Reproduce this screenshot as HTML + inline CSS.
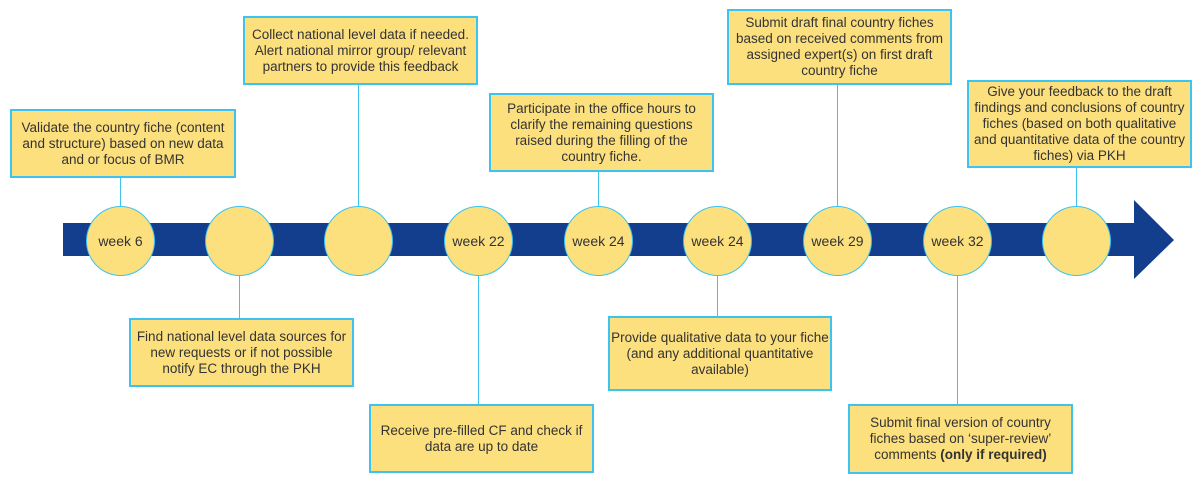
<!DOCTYPE html>
<html><head><meta charset="utf-8"><style>
body{margin:0;width:1200px;height:485px;background:#fff;position:relative;overflow:hidden;font-family:"Liberation Sans",sans-serif;}
.b{position:absolute;box-sizing:border-box;background:#fde07e;border:2px solid #3cc3ef;display:flex;align-items:center;justify-content:center;text-align:center;font-size:13.5px;line-height:16px;color:#333;white-space:nowrap;}
.b span{display:block;}
.l{position:absolute;width:1px;background:#3cc3ef;}
.c{position:absolute;width:69px;height:70px;box-sizing:border-box;border-radius:50%;background:#fde07e;border:1.5px solid #3cc3ef;display:flex;align-items:center;justify-content:center;font-size:14px;color:#333;}
</style></head><body>
<div style="position:absolute;left:63px;top:223px;width:1075px;height:33px;background:#133e8e"></div>
<svg style="position:absolute;left:0;top:0" width="1200" height="485"><polygon points="1134,200 1174,240 1134,279" fill="#133e8e"/></svg>

<div class="l" style="left:120px;top:177px;height:30px"></div>
<div class="l" style="left:239px;top:272px;height:46px"></div>
<div class="l" style="left:358px;top:84px;height:123px"></div>
<div class="l" style="left:478px;top:272px;height:132px"></div>
<div class="l" style="left:598px;top:171px;height:36px"></div>
<div class="l" style="left:717px;top:272px;height:44px"></div>
<div class="l" style="left:837px;top:84px;height:123px"></div>
<div class="l" style="left:957px;top:272px;height:132px"></div>
<div class="l" style="left:1076px;top:167px;height:40px"></div>

<div class="c" style="left:86px;top:206px">week 6</div>
<div class="c" style="left:205px;top:206px"></div>
<div class="c" style="left:324px;top:206px"></div>
<div class="c" style="left:444px;top:206px">week 22</div>
<div class="c" style="left:564px;top:206px">week 24</div>
<div class="c" style="left:683px;top:206px">week 24</div>
<div class="c" style="left:803px;top:206px">week 29</div>
<div class="c" style="left:923px;top:206px">week 32</div>
<div class="c" style="left:1042px;top:206px"></div>

<div class="b" style="left:10px;top:109px;width:226px;height:69px"><span>Validate the country fiche (content<br>and structure) based on new data<br>and or focus of BMR</span></div>
<div class="b" style="left:243px;top:16px;width:235px;height:69px"><span>Collect national level data if needed.<br>Alert national mirror group/ relevant<br>partners to provide this feedback</span></div>
<div class="b" style="left:489px;top:93px;width:225px;height:79px"><span>Participate in the office hours to<br>clarify the remaining questions<br>raised during the filling of the<br>country fiche.</span></div>
<div class="b" style="left:727px;top:9px;width:225px;height:76px"><span>Submit draft final country fiches<br>based on received comments from<br>assigned expert(s) on first draft<br>country fiche</span></div>
<div class="b" style="left:967px;top:80px;width:225px;height:88px"><span>Give your feedback to the draft<br>findings and conclusions of country<br>fiches (based on both qualitative<br>and quantitative data of the country<br>fiches) via PKH</span></div>
<div class="b" style="left:129px;top:318px;width:225px;height:69px"><span>Find national level data sources for<br>new requests or if not possible<br>notify EC through the PKH</span></div>
<div class="b" style="left:369px;top:404px;width:225px;height:69px"><span>Receive pre-filled CF and check if<br>data are up to date</span></div>
<div class="b" style="left:608px;top:316px;width:224px;height:75px"><span>Provide qualitative data to your fiche<br>(and any additional quantitative<br>available)</span></div>
<div class="b" style="left:848px;top:404px;width:225px;height:70px"><span>Submit final version of country<br>fiches based on ‘super-review’<br>comments <b>(only if required)</b></span></div>
</body></html>
